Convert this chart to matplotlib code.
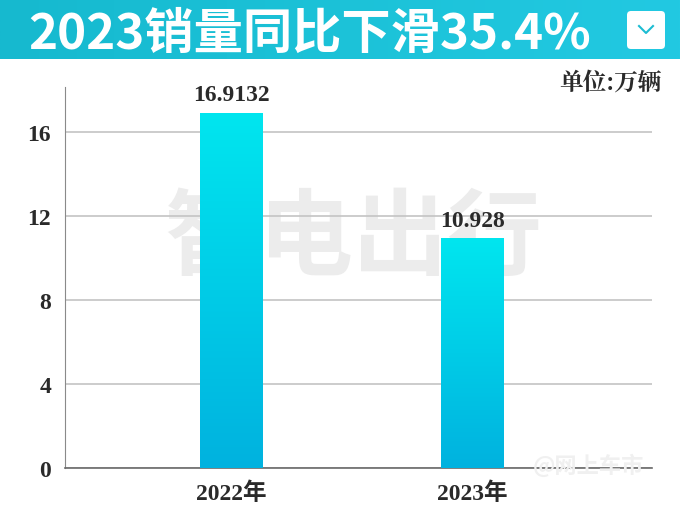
import matplotlib
matplotlib.use("Agg")
import matplotlib.pyplot as plt
import numpy as np
from matplotlib.patches import FancyBboxPatch, Rectangle
from matplotlib.colors import LinearSegmentedColormap

# data
years = ["2022年", "2023年"]
sales = [16.9132, 10.928]
value_labels = ["16.9132", "10.928"]
yticks = [0, 4, 8, 12, 16]
title = "2023销量同比下滑35.4%"
unit = "单位:万辆"

serif = ["Liberation Serif", "Noto Sans CJK SC"]
sans_cjk = ["Noto Sans CJK SC", "DejaVu Sans"]

fig = plt.figure(figsize=(6.8, 5.1), dpi=100)
fig.patch.set_facecolor("white")

# title banner with horizontal gradient
banner = fig.add_axes([0, 1 - 60 / 510, 1, 60 / 510])
grad = np.linspace(0, 1, 256).reshape(1, -1)
banner_cmap = LinearSegmentedColormap.from_list("b", ["#16b9cf", "#1cc2d8", "#22c9e2"])
banner.imshow(grad, aspect="auto", cmap=banner_cmap, extent=[0, 680, 0, 60])
banner.set_xlim(0, 680)
banner.set_ylim(0, 60)
banner.axis("off")
banner.text(28, 26, title, color="white", fontsize=35.5, fontweight="bold",
            family=sans_cjk, va="center", ha="left")
box = FancyBboxPatch((627, 10), 38, 38, boxstyle="round,pad=0,rounding_size=4",
                     facecolor="white", edgecolor="none")
banner.add_patch(box)
banner.plot([639, 646, 653], [33, 26, 33], color="#1cbcd2", lw=1.5)

# main axes
ax = fig.add_axes([65 / 680, 1 - 469 / 510, (652 - 65) / 680, (469 - 88) / 510])
x = np.arange(len(years))
bars = ax.bar(x, sales, width=0.26, color="none", edgecolor="none", zorder=3)

bar_cmap = LinearSegmentedColormap.from_list("g", ["#00b2df", "#00e6ef"])
for b in bars:
    x0, w, h = b.get_x(), b.get_width(), b.get_height()
    img = ax.imshow(np.linspace(0, 1, 256).reshape(-1, 1), cmap=bar_cmap, origin="lower",
                    extent=[x0, x0 + w, 0, h], aspect="auto", zorder=3)
    img.set_clip_path(Rectangle((x0, 0), w, h, transform=ax.transData))

for xi, v, lab in zip(x, sales, value_labels):
    ax.text(xi, v + 0.35, lab, ha="center", va="bottom", fontsize=17,
            fontweight="bold", family=serif, color="#2a2a2a", zorder=4)

ax.set_xlim(-0.69, 1.745)
ax.set_ylim(0, 18.14)
ax.set_yticks(yticks)
ax.set_yticklabels([str(t) for t in yticks], family=serif, fontsize=17,
                   fontweight="bold", color="#2a2a2a")
ax.set_xticks(x)
ax.set_xticklabels(years, family=serif, fontsize=17, fontweight="bold", color="#2a2a2a")
ax.tick_params(length=0, pad=10)
ax.grid(axis="y", color="#c4c4c4", lw=1.2, zorder=1)
ax.set_axisbelow(True)
for s in ["top", "right"]:
    ax.spines[s].set_visible(False)
ax.spines["left"].set_color("#8a8a8a")
ax.spines["bottom"].set_color("#6a6a6a")
ax.spines["bottom"].set_linewidth(1.2)

# watermarks
ax.text(0.49, 0.6, "智电出行", transform=ax.transAxes, fontsize=68, fontweight="bold",
        family=sans_cjk, color="#ececec", ha="center", va="center", zorder=0.5)
fig.text(0.865, 0.085, "@网上车市", fontsize=16, fontweight="bold", family=sans_cjk,
         color="#f0f0f0", ha="center", va="center", zorder=5)

fig.text(662 / 680, 1 - 83 / 510, unit, fontsize=17, fontweight="bold",
         family=["Noto Serif CJK SC", "Noto Sans CJK SC"], color="#2a2a2a",
         ha="right", va="center")

fig.savefig("out.png", dpi=100)
